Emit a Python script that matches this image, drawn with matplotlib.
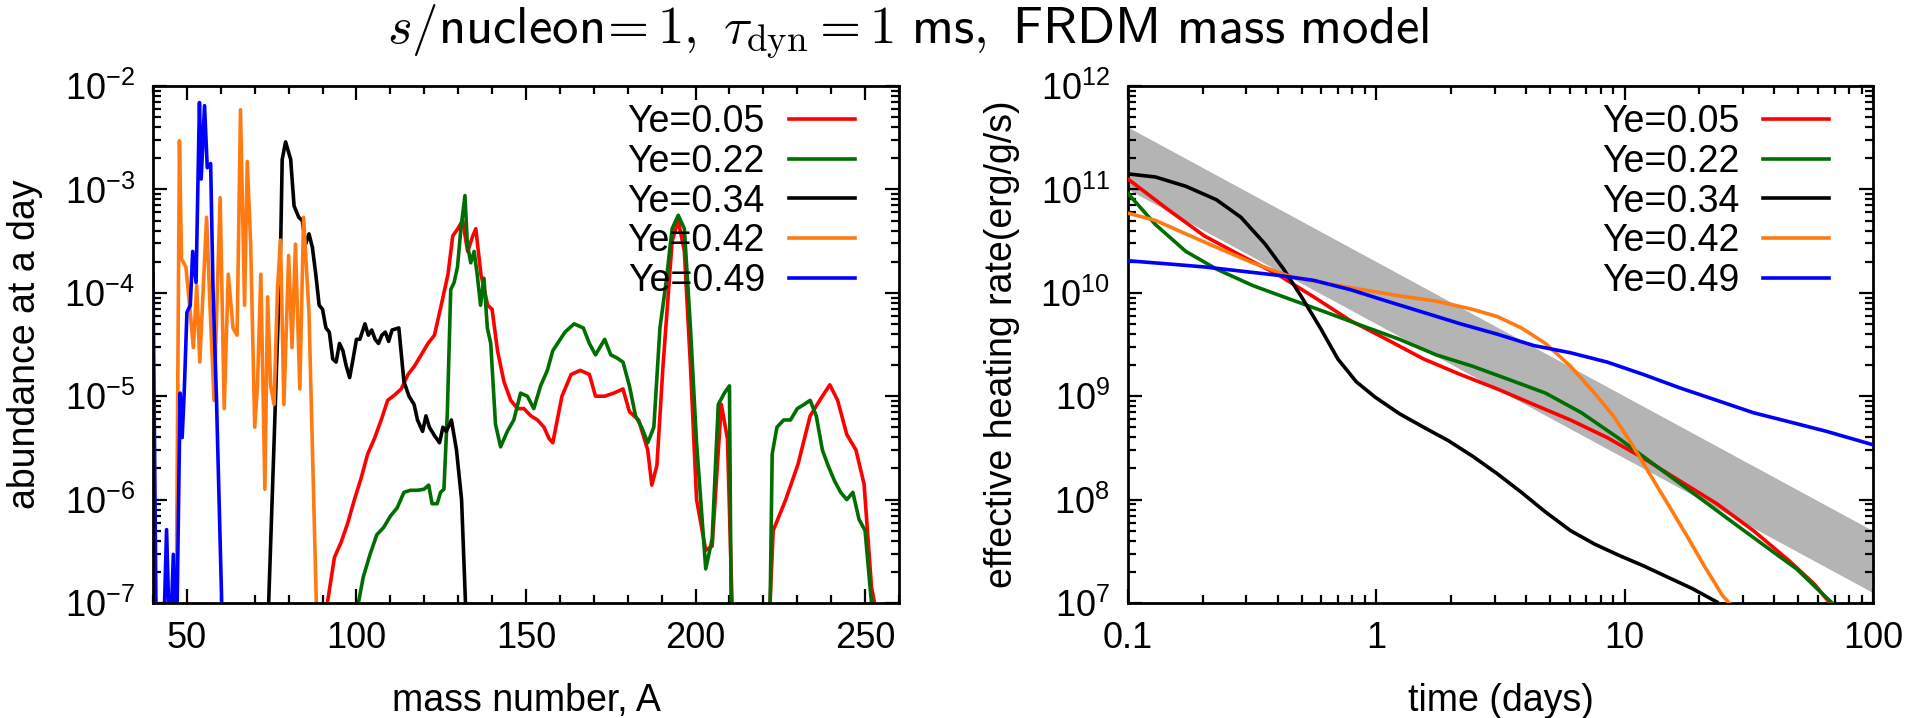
import numpy as np
import matplotlib
matplotlib.use("Agg")
import matplotlib.pyplot as plt
from matplotlib.ticker import FixedLocator, LogLocator, NullFormatter

plt.rcParams['font.family'] = ['Liberation Sans', 'DejaVu Sans']
plt.rcParams['mathtext.fontset'] = 'cm'

labels = ["Ye=0.05", "Ye=0.22", "Ye=0.34", "Ye=0.42", "Ye=0.49"]
colors = ["#ff0000", "#006e00", "#000000", "#ff7a10", "#0000ff"]

# ---- left panel: abundance at a day vs mass number (log10 values) ----
A_red = [90, 93.5, 95.5, 97.4, 99.4, 101.4, 103.3, 105.3, 107.3, 109.2, 111.2, 113.2, 115.2, 117.1,
         119.1, 121.1, 123, 125, 127, 128.4, 129.9, 131.3, 132.8, 134.3, 135.2, 136.7, 138.7, 140,
         141.6, 143.5, 145.5, 147.5, 149.4, 151.4, 153.4, 155.3, 156.8, 157.9, 160.6, 163.3, 166,
         168.7, 170.5, 173.2, 175.9, 178.6, 180.5, 183.2, 185.9, 187.1, 188.6, 190.4, 193.1, 194.9,
         196.7, 198.5, 200.3, 203, 204.9, 207.6, 209.4, 211.2, 221.3, 222.9, 226.6, 230.2, 233.8,
         237.4, 239.6, 241.9, 244.6, 247.3, 249.7, 251.9, 254.6]
Y_red = [-7.3, -6.56, -6.41, -6.23, -6.0, -5.79, -5.56, -5.41, -5.23, -5.04, -4.99, -4.93, -4.79, -4.71,
         -4.6, -4.49, -4.41, -4.12, -3.82, -3.45, -3.38, -3.3, -3.6, -3.45, -3.38, -3.82, -4.12, -4.16,
         -4.56, -4.86, -5.04, -5.12, -5.12, -5.19, -5.23, -5.3, -5.41, -5.45, -5.0, -4.79, -4.75,
         -4.79, -5.0, -5.0, -4.97, -4.93, -5.15, -5.23, -5.52, -5.86, -5.67, -4.71, -3.5, -3.3,
         -3.6, -4.71, -6.0, -6.49, -6.45, -5.08, -5.41, -7.5, -7.5, -6.3, -6.0, -5.66, -5.19,
         -5.0, -4.89, -5.04, -5.37, -5.52, -5.85, -6.85, -7.3]

A_green = [100, 102, 104, 106, 108, 110, 112, 114, 115.9, 117.9, 119.9, 121.3, 122.3, 123.8, 124.8,
           125.8, 126.8, 127.8, 128.8, 129.8, 130.8, 132, 132.7, 133.7, 134.7, 135.6, 136.6, 137.6,
           138.6, 139.6, 141, 142.5, 144.5, 146.4, 148.4, 150.4, 152.3, 154.3, 156.3, 157.9, 161.5,
           164.2, 166.9, 168.7, 170.5, 173.2, 175, 176.8, 178.6, 180.5, 182.3, 184.1, 185.9, 187.7,
           189.5, 191.3, 193.1, 194.9, 196.7, 198.5, 200.3, 203, 204.9, 206.7, 208.5, 210, 210.6,
           211.2, 221.8, 222.6, 224, 226, 228, 230, 232, 233.8, 235.6, 237.4, 239.2, 241, 242.8,
           244.6, 246.4, 248.2, 250, 251.5, 252.8]
Y_green = [-7.1, -6.75, -6.53, -6.34, -6.27, -6.16, -6.08, -5.93, -5.91, -5.91, -5.9, -5.86, -6.04, -6.04,
           -5.93, -5.9, -5.16, -3.97, -3.9, -3.75, -3.38, -3.06, -3.53, -3.71, -3.6, -3.82, -4.12, -3.86,
           -4.34, -4.49, -5.27, -5.49, -5.34, -5.23, -4.97, -5.0, -5.12, -4.9, -4.75, -4.56, -4.38,
           -4.3, -4.34, -4.49, -4.6, -4.45, -4.6, -4.63, -4.67, -4.9, -5.19, -5.3, -5.45, -5.3,
           -4.34, -3.9, -3.38, -3.25, -3.38, -4.34, -5.45, -6.67, -6.38, -5.08, -4.97, -4.9, -7.5,
           -7.5, -7.5, -5.56, -5.3, -5.23, -5.23, -5.12, -5.08, -5.04, -5.19, -5.52, -5.68, -5.82, -5.93,
           -6.0, -5.93, -6.19, -6.3, -6.86, -7.3]

A_black = [73.8, 75.7, 77.7, 78.1, 79.1, 80.6, 81.6, 83, 84, 85, 86, 87, 88, 89, 90, 91, 92, 93, 94,
           95, 96, 97, 98, 99, 100, 101, 102.5, 103.5, 104.5, 105.5, 106.5, 107.5, 108.5, 109.5,
           110.5, 112.5, 114, 115.5, 117, 118, 119.5, 120.5, 121.5, 123, 124.5, 125.5, 126.5, 128,
           129.5, 131, 132.5]
Y_black = [-7.3, -5.45, -3.45, -2.71, -2.54, -2.71, -3.16, -3.27, -3.3, -3.53, -3.43, -3.56, -3.82,
           -4.12, -4.16, -4.34, -4.38, -4.64, -4.67, -4.49, -4.56, -4.71, -4.82, -4.64, -4.45, -4.45,
           -4.3, -4.41, -4.36, -4.45, -4.49, -4.41, -4.38, -4.47, -4.36, -4.34, -4.86, -5.0, -5.08,
           -5.23, -5.34, -5.19, -5.3, -5.38, -5.45, -5.3, -5.34, -5.23, -5.52, -6.0, -7.3]

A_orange = [46.8, 47.8, 48.4, 49.7, 50.9, 51.9, 52.9, 53.8, 55.8, 56.8, 58, 59.8, 61, 62.2, 63.6,
            64.8, 65.8, 67, 67.8, 68.8, 70, 70.8, 71.8, 73, 73.8, 74.7, 75.7, 76.7, 77.6, 78.6,
            80, 81, 82, 83.3, 84.4, 86, 88.4]
Y_orange = [-7.3, -2.53, -3.67, -3.75, -4.16, -4.53, -3.93, -4.67, -3.27, -4.12, -5.04, -3.08, -5.12,
            -3.82, -4.34, -4.41, -2.23, -4.12, -2.73, -3.53, -5.3, -4.9, -3.82, -5.9, -4.04, -4.9,
            -5.08, -3.97, -3.49, -5.08, -3.64, -4.53, -3.53, -4.93, -3.27, -4.19, -7.3]

A_blue = [40, 41, 42, 43, 44, 45, 46, 47, 48, 48.6, 49.2, 50, 51, 51.7, 52.7, 53.7, 54.2, 55.2, 56,
          57, 57.7, 58.7, 60.5]
Y_blue = [-3.82, -7.5, -7.5, -7.5, -6.29, -7.5, -6.53, -7.3, -4.97, -5.4, -4.97, -4.19, -4.12, -3.6,
          -3.9, -2.16, -2.9, -2.19, -2.79, -2.75, -3.97, -5.0, -7.3]

# ---- right panel: effective heating rate vs time (log10 values) ----
t_red = [0.1, 0.144, 0.203, 0.285, 0.399, 0.56, 0.787, 1.1, 1.55, 2.18, 3.07, 4.3, 6.05, 8.5, 11.9,
         16.7, 23.5, 33, 46.4, 58.2, 67]
h_red = [11.10, 10.81, 10.55, 10.36, 10.18, 9.96, 9.73, 9.55, 9.36, 9.21, 9.07, 8.92, 8.77, 8.60, 8.40,
         8.18, 7.96, 7.70, 7.40, 7.18, 7.0]
t_green = [0.1, 0.129, 0.171, 0.227, 0.318, 0.447, 0.63, 0.88, 1.24, 1.74, 2.44, 3.43, 4.8, 6.7, 9.5,
           13.3, 18.7, 26.2, 36.8, 49.2, 61.9, 68.5]
h_green = [10.96, 10.66, 10.40, 10.23, 10.07, 9.94, 9.81, 9.68, 9.55, 9.40, 9.29, 9.16, 9.03, 8.84, 8.59,
           8.33, 8.07, 7.81, 7.55, 7.33, 7.10, 7.0]
t_black = [0.1, 0.129, 0.171, 0.227, 0.285, 0.357, 0.423, 0.5, 0.595, 0.7, 0.83, 0.99, 1.24, 1.55,
           1.95, 2.44, 3.07, 3.84, 4.8, 6.05, 7.56, 9.5, 11.9, 14.9, 18.7, 23.5]
h_black = [11.15, 11.12, 11.03, 10.90, 10.73, 10.47, 10.23, 9.96, 9.66, 9.36, 9.14, 8.99, 8.83, 8.70,
           8.57, 8.42, 8.25, 8.07, 7.88, 7.70, 7.57, 7.46, 7.36, 7.25, 7.14, 7.01]
t_orange = [0.1, 0.129, 0.171, 0.227, 0.318, 0.447, 0.63, 0.88, 1.24, 1.74, 2.44, 3.07, 3.84, 4.8,
            6.05, 7.56, 9.0, 10.6, 12.6, 14.9, 17.7, 20.9, 24.8, 26.4]
h_orange = [10.77, 10.70, 10.57, 10.44, 10.29, 10.16, 10.09, 10.03, 9.97, 9.92, 9.84, 9.77, 9.66, 9.51,
            9.29, 9.03, 8.81, 8.55, 8.25, 7.96, 7.66, 7.36, 7.07, 7.0]
t_blue = [0.1, 0.144, 0.203, 0.285, 0.399, 0.56, 0.787, 1.1, 1.55, 2.18, 3.07, 4.3, 6.05, 8.5, 11.9,
          16.7, 23.5, 33, 46.4, 65, 100]
h_blue = [10.31, 10.28, 10.25, 10.21, 10.17, 10.12, 10.03, 9.92, 9.81, 9.70, 9.60, 9.49, 9.42, 9.33,
          9.21, 9.08, 8.96, 8.84, 8.75, 8.66, 8.53]

# gray band edges read at the two ends
t_band = [0.1, 100]
band_hi = [4.0e11, 5.0e7]
band_lo = [1.0e11, 1.26e7]

left_series = [(A_red, Y_red), (A_green, Y_green), (A_black, Y_black), (A_orange, Y_orange), (A_blue, Y_blue)]
right_series = [(t_red, h_red), (t_green, h_green), (t_black, h_black), (t_orange, h_orange), (t_blue, h_blue)]

fs_tick = 26
fs_lab = 27

fig = plt.figure(figsize=(19.15, 7.18), dpi=100)
ax1 = fig.add_axes([153 / 1915, 115 / 718, 746 / 1915, 517 / 718])
ax2 = fig.add_axes([1128 / 1915, 115 / 718, 745 / 1915, 517 / 718])


def style(ax):
    for s in ax.spines.values():
        s.set_linewidth(2)
    ax.tick_params(which='both', direction='in', top=True, right=True, width=1.6,
                   labelsize=fs_tick, pad=13)
    ax.tick_params(which='major', length=10)
    ax.tick_params(which='minor', length=6)


def add_legend(ax):
    ax.legend(loc='upper right', bbox_to_anchor=(1 - 44 / 746, 1 - 18 / 517), frameon=False,
              markerfirst=False, fontsize=fs_lab, handlelength=1.75, handletextpad=0.65,
              labelspacing=0.1, borderpad=0, borderaxespad=0)


for (x, y), c, lab in zip(left_series, colors, labels):
    ax1.plot(x, 10.0 ** np.array(y), color=c, lw=2.6, label=lab)
ax1.set_yscale('log')
ax1.set_xlim(40, 260)
ax1.set_ylim(1e-7, 1e-2)
ax1.xaxis.set_major_locator(FixedLocator([50, 100, 150, 200, 250]))
ax1.xaxis.set_minor_locator(FixedLocator(list(range(40, 261, 10))))
ax1.set_yticks([10.0 ** k for k in range(-7, -1)])
ax1.set_yticklabels([r'$\mathregular{10^{%d}}$' % k for k in range(-7, -1)])
ax1.yaxis.set_minor_locator(LogLocator(base=10, subs=np.arange(2, 10), numticks=20))
ax1.yaxis.set_minor_formatter(NullFormatter())
style(ax1)
ax1.set_xlabel('mass number, A', fontsize=fs_lab)
ax1.xaxis.set_label_coords(0.5, -0.155)
ax1.set_ylabel('abundance at a day', fontsize=fs_lab)
ax1.yaxis.set_label_coords(-0.148, 0.5)
add_legend(ax1)

ax2.fill_between(t_band, band_lo, band_hi, color='#b4b4b4', lw=0, zorder=1)
for (x, y), c, lab in zip(right_series, colors, labels):
    ax2.plot(x, 10.0 ** np.array(y), color=c, lw=2.6, label=lab, zorder=3)
ax2.set_xscale('log')
ax2.set_yscale('log')
ax2.set_xlim(0.1, 100)
ax2.set_ylim(1e7, 1e12)
ax2.set_xticks([0.1, 1, 10, 100])
ax2.set_xticklabels(['0.1', '1', '10', '100'])
ax2.xaxis.set_minor_locator(LogLocator(base=10, subs=np.arange(2, 10), numticks=20))
ax2.xaxis.set_minor_formatter(NullFormatter())
ax2.set_yticks([10.0 ** k for k in range(7, 13)])
ax2.set_yticklabels([r'$\mathregular{10^{%d}}$' % k for k in range(7, 13)])
ax2.yaxis.set_minor_locator(LogLocator(base=10, subs=np.arange(2, 10), numticks=20))
ax2.yaxis.set_minor_formatter(NullFormatter())
style(ax2)
ax2.set_xlabel('time (days)', fontsize=fs_lab)
ax2.xaxis.set_label_coords(0.5, -0.155)
ax2.set_ylabel('effective heating rate(erg/g/s)', fontsize=fs_lab)
ax2.yaxis.set_label_coords(-0.145, 0.5)
add_legend(ax2)

fig.text(0.474, 0.955,
         r'$s/\mathsf{nucleon}\!= 1,\ \tau_{\rm dyn} = 1\ \mathsf{ms,\ FRDM\ mass\ model}$',
         fontsize=38, ha='center', va='center')

fig.savefig('out.png', dpi=100)
